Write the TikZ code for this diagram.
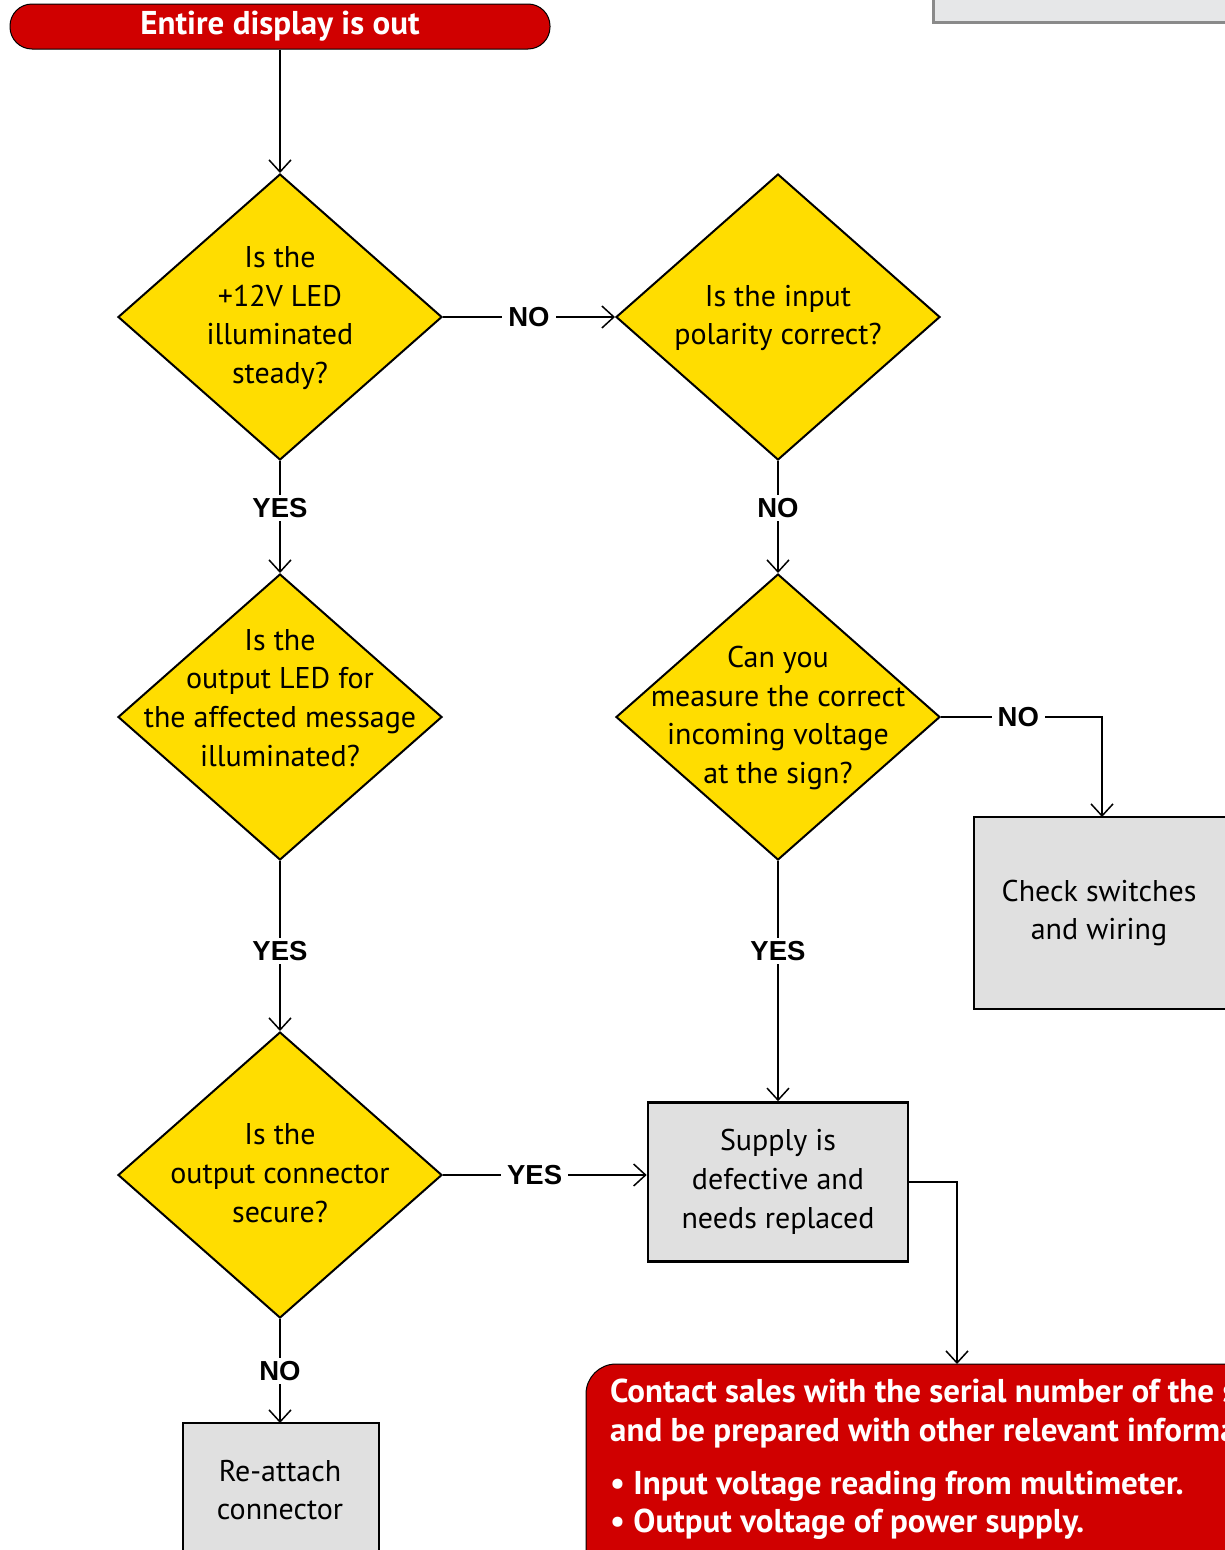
\documentclass[tikz,border=0pt]{standalone}
\usepackage{fontspec}
\setmainfont{PT Sans}
\newfontfamily\lblfont{Liberation Sans}
\usetikzlibrary{shapes.geometric,arrows.meta}
\definecolor{dyellow}{HTML}{FFDD00}
\definecolor{dred}{HTML}{D00000}
\definecolor{boxgray}{HTML}{E0E0E0}
\definecolor{topgray}{HTML}{E6E7E8}
\definecolor{bordergray}{HTML}{8A8A8A}
\tikzset{
  dia/.style={diamond, draw=black, line width=2pt, fill=dyellow, minimum width=324pt, minimum height=286pt, inner sep=0pt},
  dtext/.style={align=center, font=\fontsize{30}{38.7}\selectfont, inner sep=0pt},
  gbox/.style={draw=black, line width=2.6pt, fill=boxgray},
  btext/.style={align=center, font=\fontsize{30}{38.7}\selectfont, inner sep=0pt},
  arr/.style={line width=1.5pt, -{Straight Barb[length=12pt,width=22pt,line width=1.5pt]}},
  lbl/.style={fill=white, inner xsep=6pt, inner ysep=3pt, font=\lblfont\bfseries\fontsize{27.5}{30}\selectfont},
  redtxt/.style={text=white, font=\bfseries\fontsize{33}{38}\selectfont, inner sep=0pt, anchor=base west}
}
\begin{document}
\begin{tikzpicture}[x=1pt,y=-1pt]
\useasboundingbox (0,0) rectangle (1225,1550);
\clip (0,0) rectangle (1225,1550);
\fill[white] (0,0) rectangle (1225,1550);

% top-right partial box
\draw[fill=topgray, draw=bordergray, line width=3pt] (933,-30) rectangle (1260,22);

% start node
\node[draw=black, line width=1pt, fill=dred, rounded corners=22pt, minimum width=540pt, minimum height=45pt, inner sep=0pt,
      text=white, font=\bfseries\fontsize{33}{36}\selectfont] (start) at (280,26.5) {Entire display is out};

% diamonds
\node[dia] (d1) at (280,317) {};
\node[dtext] (d1t) at (280,318) {Is the\\+12V LED\\illuminated\\steady?};
\node[dia] (d2) at (778,317) {};
\node[dtext] (d2t) at (778,318) {Is the input\\polarity correct?};
\node[dia] (d3) at (280,717) {};
\node[dtext] (d3t) at (280,698) {Is the\\output LED for\\the affected message\\illuminated?};
\node[dia] (d4) at (778,717) {};
\node[dtext] (d4t) at (778,718) {Can you\\measure the correct\\incoming voltage\\at the sign?};
\node[dia] (d5) at (280,1175) {};
\node[dtext] (d5t) at (280,1173) {Is the\\output connector\\secure?};

% boxes
\draw[gbox] (974,817) rectangle (1260,1009);
\coordinate (chk) at (1102,817);
\node[btext] (chkt) at (1099,913) {Check switches\\and wiring};

\node[gbox, minimum width=260pt, minimum height=159pt, inner sep=0pt] (sup) at (778,1182) {};
\node[btext] (supt) at (778,1182) {Supply is\\defective and\\needs replaced};

\draw[gbox] (183,1423) rectangle (379,1600);
\coordinate (rea) at (280,1423);
\node[btext] (reat) at (280,1490) {Re-attach\\connector};

% red contact box
\draw[fill=dred, draw=black, line width=1pt, rounded corners=30pt] (586,1364) rectangle (1300,1640);
\coordinate (red) at (957,1364);
\node[redtxt] (r1) at (610,1402) {Contact sales with the serial number of the sign};
\node[redtxt] (r2) at (610,1441) {and be prepared with other relevant information:};
\node[redtxt] (r3) at (610,1494) {• Input voltage reading from multimeter.};
\node[redtxt] (r4) at (610,1532) {• Output voltage of power supply.};

% connectors
\draw[arr] (start.south) -- (d1.north);
\draw[arr] (d1.east) -- node[lbl] {NO} (d2.west);
\draw[arr] (d1.south) -- node[lbl, pos=0.42] {YES} (d3.north);
\draw[arr] (d2.south) -- node[lbl, pos=0.42] {NO} (d4.north);
\draw[arr] (d4.east) -- node[lbl, pos=0.48] {NO} (1102,717) -- (chk);
\draw[arr] (d3.south) -- node[lbl, pos=0.53] {YES} (d5.north);
\draw[arr] (d4.south) -- node[lbl, pos=0.375] {YES} (sup.north);
\draw[arr] (d5.east) -- node[lbl, pos=0.45] {YES} (d5.east -| sup.west);
\draw[arr] (d5.south) -- node[lbl] {NO} (rea);
\draw[arr] (sup.east) -- (957,1182) -- (red);
\end{tikzpicture}
\end{document}
